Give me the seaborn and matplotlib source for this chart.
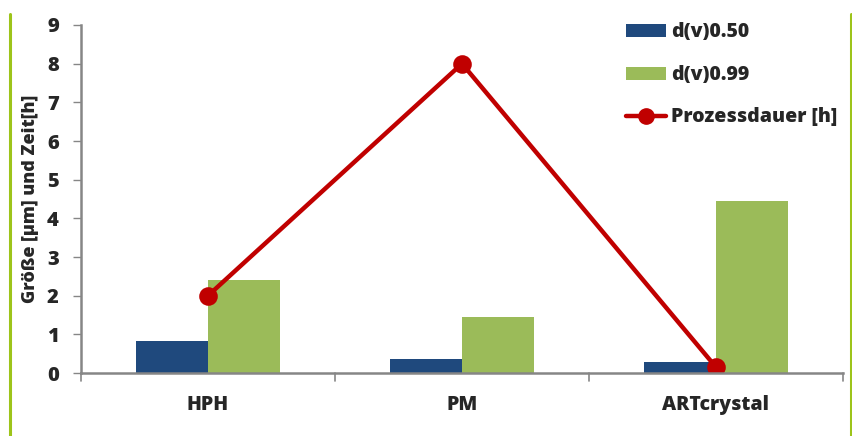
import matplotlib
matplotlib.use("Agg")
import matplotlib.pyplot as plt
from matplotlib.lines import Line2D
from matplotlib.patches import Patch
import seaborn as sns
import pandas as pd

# Verfahren und Messwerte
verfahren = ["HPH", "PM", "ARTcrystal"]
d50 = [0.83, 0.35, 0.28]
d99 = [2.40, 1.45, 4.45]
prozessdauer = [2.0, 8.0, 0.15]
serien = ["d(v)0.50", "d(v)0.99"]
linien_label = "Prozessdauer [h]"
y_ticks = list(range(0, 10))

BLAU = "#1F497D"
GRUEN = "#9BBB59"
ROT = "#C00000"
RAHMEN = "#9DC41A"
GRAU = "#868686"

sns.set_theme(style="white")
plt.rcParams["font.family"] = ["Open Sans", "DejaVu Sans"]
plt.rcParams["font.weight"] = "heavy"

df = pd.DataFrame({
    "Verfahren": verfahren * 2,
    "Serie": [serien[0]] * 3 + [serien[1]] * 3,
    "Wert": d50 + d99,
})

fig = plt.figure(figsize=(8.52, 4.36), dpi=100)
ax = fig.add_axes([81 / 852, 1 - 373 / 436, (843 - 81) / 852, (373 - 25) / 436])

sns.barplot(data=df, x="Verfahren", y="Wert", hue="Serie",
            palette=[BLAU, GRUEN], width=0.57, gap=0, saturation=1,
            edgecolor="none", ax=ax, legend=False)

sns.pointplot(x=verfahren, y=prozessdauer, color=ROT, markers="o",
              markersize=11, linewidth=3.2, ax=ax)

ax.set_xlim(-0.5, 2.5)
ax.set_ylim(0, 9)
ax.set_yticks(y_ticks)
ax.set_yticklabels([str(t) for t in y_ticks], fontsize=14.5, fontweight="heavy")
ax.set_xticks([0, 1, 2])
ax.set_xticklabels(verfahren, fontsize=14, fontweight="heavy")
ax.tick_params(axis="x", length=0, pad=16)
ax.tick_params(axis="y", length=6, width=1.0, color=GRAU, pad=10, direction="out", left=True)
# Trennstriche zwischen den Kategorien
for xb in [-0.5, 0.5, 1.5, 2.5]:
    ax.plot([xb, xb], [0, -0.2], color=GRAU, lw=1.2, clip_on=False)

ax.set_xlabel("")
ax.set_ylabel("Größe [µm] und Zeit[h]", fontsize=13, fontweight="heavy")
ax.yaxis.set_label_coords((39 - 81) / 762, 0.5)

for s in ["top", "right"]:
    ax.spines[s].set_visible(False)
for s in ["left", "bottom"]:
    ax.spines[s].set_color(GRAU)
    ax.spines[s].set_linewidth(1.8)

handles = [
    Patch(facecolor=BLAU, edgecolor="none", label=serien[0]),
    Patch(facecolor=GRUEN, edgecolor="none", label=serien[1]),
    Line2D([0], [0], color=ROT, lw=3.2, marker="o", markersize=11, label=linien_label),
]
leg = fig.legend(handles=handles, loc="upper left",
                 bbox_to_anchor=(608 / 852, 1 - 5 / 436),
                 frameon=False, prop={"size": 14, "weight": "heavy"},
                 handlelength=2.1, handleheight=0.65, handletextpad=0.25,
                 labelspacing=1.15)

# seitliche Rahmenlinien
fig.add_artist(Line2D([10 / 852, 10 / 852], [0, 1 - 14 / 436], color=RAHMEN, lw=2.2))
fig.add_artist(Line2D([850.5 / 852, 850.5 / 852], [0, 1 - 14 / 436], color=RAHMEN, lw=2.2))

fig.savefig("out.png", dpi=100)
